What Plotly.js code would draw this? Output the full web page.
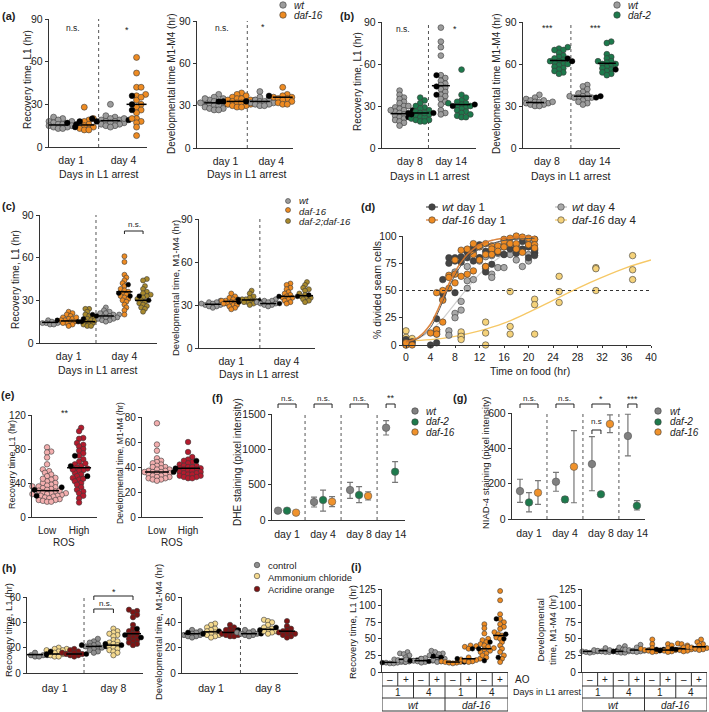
<!DOCTYPE html>
<html><head><meta charset="utf-8">
<script src="https://cdn.plot.ly/plotly-3.0.1.min.js"></script>
<style>html,body{margin:0;padding:0;background:#fff}#chart{width:709px;height:712px}</style>
</head><body><div id="chart"></div>
<script>
// ================= DATA =================
// (a) wt / daf-16, day 1 and day 4
const aRecVals=[[21,20,19,18,18,17,16,16,15,15,14,14,13,13],[28,20,19,18,16,15,14,13,12,12],[30,22,21,20,19,19,18,18,17,17,16,16,15,15,14,20],[63,52,42,42,37,36,33,30,28,26,24,20,20,18,17,14,8,35]];
const aRecReps=[[15,16,17],[18,14],[19,18,20],[36,30,26]];
const aRecMean=[15.5,15.5,18.5,30];
const aDevVals=[[38,36,35,34,33,32,32,31,31,30,30,29,28,28,27,27,35],[39,38,37,36,35,35,34,34,33,33,32,32,31,31,30,30,29,29],[40,36,35,34,33,33,32,32,31,31,30,30],[43,38,37,36,36,35,35,34,33,32,31,31]];
const aDevReps=[[31,33],[33,34],[33],[36,37]];
const aDevMean=[32,33,33,36];
const aDays=['day 1','day 4'];
// (b) wt / daf-2, day 8 and day 14
const bRecVals=[[41,38,36,35,33,32,30,29,28,27,26,25,24,23,22,21,20,19,18,16,30,27],[36,34,32,30,29,28,27,26,25,24,23,22,22,21,20,20,19,19,25],[86,76,72,66,52,50,48,46,45,43,42,40,38,37,35,33,31,27,25,24],[56,38,36,34,33,32,31,30,29,28,27,26,25,24,23,22,22,30,32]];
const bRecReps=[[22,25,27],[24,25],[52,38,44],[30,31]];
const bRecMean=[24.5,25,44.5,31];
const bDevVals=[[38,36,35,34,33,33,32,32,31,31,30,30,33,34],[72,71,70,68,66,65,64,63,62,61,60,59,58,57,56,55,54,53,70,62,60],[45,44,42,40,39,38,37,37,36,36,35,34,33,32,31,36],[76,75,67,65,64,62,61,60,59,58,57,56,55,54,53,52,60,62]];
const bDevReps=[[32,33],[62,64],[37,36],[56,62]];
const bDevMean=[32.5,62.5,37,60.5];
const bDays=['day 8','day 14'];
// (c) wt / daf-16 / daf-2;daf-16
const cRecVals=[[16,15,15,14,14,14,13,13,15],[22,21,20,19,18,17,17,16,16,15,15,14,14,13,12,18],[24,24,22,20,19,18,17,16,15,14,14,13,12,12,16],[25,23,22,21,20,20,19,19,18,18,17,17,16,16,15,21],[61,57,48,46,44,42,40,38,37,36,35,34,33,32,31,30,29,27,25,23,20],[45,44,40,38,36,35,34,33,32,31,30,29,28,27,26,25,24,22]];
const cRecReps=[[15],[16,15],[15,17],[19,20],[41,33,35],[30,33]];
const cRecMean=[14.5,15.5,15,19,36,30];
const cDevVals=[[33,32,32,31,31,30,30,29,29,28,31],[38,36,35,34,33,33,32,32,31,31,30,30,29,28,27],[40,38,36,35,34,34,33,33,32,32,31,30],[34,33,33,32,32,31,31,30,30,29],[45,44,42,41,39,38,37,36,35,35,34,33,32,31],[46,44,42,41,40,38,37,36,35,35,34,33,32]];
const cDevReps=[[31],[32,33],[33,34],[31],[36],[36,37]];
const cDevMean=[30.5,32.5,33.5,31,36,36.5];
// (d) % divided seam cells vs time on food
const dWt1X=[0,0,1,4,5,5,5,5,6,6,7,7,8,8,8,9,9,10,10,11,11,11,12,12,13,13,13,14,14,15,16,16,17,18,18,19,19,20,20,21,21,21];
const dWt1Y=[5,3,3,0,2,24,12,14,60,47,80,75,48,80,77,76,81,85,80,77,88,90,80,92,86,67,72,74,87,85,90,83,88,91,84,95,88,80,90,84,87,82];
const dDaf1X=[0,0,1,4,5,5,5,6,6,6,7,7,7,8,8,8,9,9,10,10,11,11,11,12,12,13,13,13,14,14,14,15,15,16,16,16,17,17,18,18,18,19,19,20,20,21,21,21];
const dDaf1Y=[0,2,0,11,48,14,10,50,41,21,64,62,52,78,57,65,87,63,88,65,93,83,68,90,78,93,83,72,91,88,83,91,86,97,95,90,98,93,100,93,88,99,85,98,92,97,92,89];
const dWt4X=[0,1,5,6,7,7,8,8,8,9,9,9,9,10,10,10,11,11,12,12,13,13,14,14,14,15,15,16,16,17,18,18,19,19,20,20,20,21,21,21];
const dWt4Y=[5,2,10,42,13,9,67,29,25,40,32,10,7,59,52,72,60,85,77,80,81,70,82,65,62,71,84,71,83,83,86,78,87,72,83,77,93,97,88,85];
const dDaf4X=[0,0,0,0,1,9,9,9,13,13,13,17,17,17,21,21,21,25,25,25,31,31,31,37,37,37];
const dDaf4Y=[13,7,2,0,6,12,8,5,21,11,0,49,17,10,42,37,10,63,49,39,71,70,50,82,69,60];
// fitted curves
const dFitWt1X=[0,2,4,5,6,7,8,9,10,12,14,16,18,21];
const dFitWt1Y=[3,6,16,27,40,53,64,73,80,88,93,96,97,98];
const dFitDaf1X=[0,2,4,5,6,7,8,9,10,12,14,16,18,21];
const dFitDaf1Y=[3,7,19,30,43,56,67,76,83,92,96,98,99,100];
const dFitWt4X=[0,2,4,6,8,10,12,14,16,18,21];
const dFitWt4Y=[2,6,13,24,38,52,65,75,83,88,92];
const dFitDaf4X=[0,4,8,12,16,20,24,28,32,36,40];
const dFitDaf4Y=[4,5,8,13,20,30,41,52,62,71,78];
// (e) ROS low / high
const eRecVals=[[82,77,76,70,62,56,54,52,50,48,46,44,42,40,40,38,37,36,35,34,33,32,31,30,29,28,28,27,26,25,25,24,23,22,21,20,20,19,18,18,45,36,31,27],[105,101,93,92,87,85,83,80,78,75,72,68,65,62,60,58,57,55,54,52,50,48,46,44,42,40,38,35,32,30,28,25,22,17,45,56,63]];
const eRecReps=[[35,32,25],[72,60,48]];
const eRecMean=[31,58];
const eDevVals=[[75,58,53,47,45,44,43,42,41,40,40,39,38,38,37,37,36,36,35,35,34,34,33,33,32,32,31,31,30,30,29,36,38],[60,52,48,46,45,44,43,42,41,41,40,40,39,39,38,38,37,37,36,36,35,35,34,34,33,33,32,32,31,31]];
const eDevReps=[[36,38],[45,39]];
const eDevMean=[36,39];
const eCats=['Low','High'];
// (f) DHE staining: mean, upper, lower per day (day 1,4,8,14)
const fWt=[132,255,424,1306], fWtHi=[150,325,533,1405], fWtLo=[115,184,307,1203];
const fDaf2=[132,283,354,683], fDaf2Hi=[150,424,471,825], fDaf2Lo=[115,127,245,533];
const fDaf16=[104,259,340], fDaf16Hi=[125,330,400], fDaf16Lo=[85,188,283];
// (g) NIAD-4 staining
const gWt=[158,211,311,470], gWtHi=[225,264,466,593], gWtLo=[94,157,160,357];
const gDaf2=[94,111,140,75], gDaf2Hi=[149,126,150,104], gDaf2Lo=[40,94,130,51];
const gDaf16=[149,296,538], gDaf16Hi=[217,500,589], gDaf16Lo=[83,92,489];
const fgDays=['day 1','day 4','day 8','day 14'];
// (h) control / ammonium chloride / acridine orange
const hRecVals=[[16,15,15,14,14,14,13,13,15],[20,19,19,18,18,17,16,15,14,13,13],[19,18,17,16,16,15,15,14,14,13],[27,25,24,23,22,21,21,20,20,19,18,17,16],[35,33,32,31,30,29,26,25,24,23,22,21,20,19,18,17,16,14],[50,49,48,46,44,38,35,33,32,31,30,29,28,27,26,25,24,23,22]];
const hRecReps=[[14],[17,15],[15],[22,21],[23,22],[35,30,28]];
const hRecMean=[14.5,15,15,21,22,31];
const hDevVals=[[34,33,32,31,31,30,30,29,29,28],[39,38,36,35,34,33,32,31,30,30,29,28],[38,36,35,34,33,32,31,30,30,29,29],[34,33,32,32,31,31,30,30,29],[42,41,40,38,36,35,34,33,33,32,31],[41,37,35,34,33,32,32,31,31,30,29,28]];
const hDevReps=[[32],[33,31],[34],[31],[34,36],[33]];
const hDevMean=[31,32.5,32,31,34.5,33];
const hDays=['day 1','day 8'];
// (i) AO treatment
const iRecVals=[[16,15,15,14,14,13,13,15],[30,28,27,25,22,20,19,18,17,16,15],[21,20,19,18,17,17,16,15,14],[32,30,28,27,25,22,20,18,16,15],[17,16,15,15,14,14,13],[40,39,38,35,22,20,19,18,17,16,15],[72,66,58,50,48,45,42,40,38,36,34,32,30,28,25,22],[122,108,87,80,75,72,68,65,60,57,55,52,50,45,40,35,30,25,20,15]];
const iRecReps=[[14,15],[18,17],[17,16],[24,22],[15],[20,35],[45,35,17],[80,57,50,22]];
const iRecMean=[14.5,19,17,22,15,20,35,55];
const iDevVals=[[34,33,32,31,31,30,30,29],[36,34,33,32,31,31,30,30],[39,37,34,33,32,31,30,29,29],[41,37,35,34,33,32,31,31,30],[49,42,36,35,33,32,31,30],[42,40,36,35,34,33,32,31,30],[43,42,40,37,35,34,33,32,31],[49,45,42,40,38,37,36,35,34,33]];
const iDevReps=[[31],[32],[31],[33],[34,32],[33,34],[35,34],[38,37]];
const iDevMean=[31,32,31,33,34,33,35,38];
const iAO=['–','+','–','+','–','+','–','+'];
const iDays=['1','4','1','4'];
const iStrain=['wt','daf-16'];

// ================= STYLE =================
const W=709,H=712,AX='#333';
const FONT='Liberation Sans, Arial, Helvetica, sans-serif';
const GRAY='#9c9c9c',ORANGE='#ee8b22',GREEN='#1d7a4c',OLIVE='#a8892c',PINK='#f3aeae',RED='#b51a2d',CTRL='#8e8e8e',NH4='#f4d98e',AOC='#7e1313';
const DKGRAY='#444',LTGRAY='#a9a9a9',LTYEL='#f5d27a';
const DASH='3px,3px';
const traces=[],annotations=[],shapes=[];
const layout={width:W,height:H,margin:{l:0,r:0,t:0,b:0},showlegend:false,paper_bgcolor:'#fff',plot_bgcolor:'rgba(0,0,0,0)',font:{family:FONT,color:'#222',size:10},annotations,shapes};
let axN=0;
function mkAxes(box,xr,yr,pos,xo,yo){
  axN++; const s=axN===1?'':String(axN);
  layout['xaxis'+s]=Object.assign({domain:[box.x0/W,box.x1/W],range:xr,anchor:'y'+s,showgrid:false,zeroline:false,showline:true,linecolor:AX,linewidth:1.2,ticks:'outside',ticklen:3,tickcolor:'rgba(0,0,0,0)',showticklabels:true,tickfont:{size:10.5,color:'#222',family:FONT},fixedrange:true},xo||{});
  layout['yaxis'+s]=Object.assign({domain:[1-box.y1/H,1-box.y0/H],range:yr,anchor:'x'+s,showgrid:false,zeroline:false,showline:true,linecolor:AX,linewidth:1.2,ticks:'outside',ticklen:3,tickwidth:1,tickcolor:AX,tickfont:{size:10.5,color:'#222',family:FONT},fixedrange:true},yo||{});
  return {xa:'x'+s,ya:'y'+s,box,xr,yr,pos};
}
function sc(P,x,y,o){return Object.assign({type:'scatter',x,y,xaxis:P.xa,yaxis:P.ya,hoverinfo:'skip',cliponaxis:false},o);}
// deterministic beeswarm layout derived from the values
function swarm(vals,pos,P,size){
  const sy=(P.box.y1-P.box.y0)/(P.yr[1]-P.yr[0]);
  const ux=(P.xr[1]-P.xr[0])/(P.box.x1-P.box.x0);
  const order=vals.map((v,i)=>i).sort((a,b)=>vals[a]-vals[b]);
  const placed=[],xs=new Array(vals.length);
  const d=size*0.68,step=size*0.38;
  order.forEach(i=>{
    const py=vals[i]*sy; let off=0;
    for(let k=0;k<80;k++){
      off=k===0?0:(k%2?1:-1)*Math.ceil(k/2)*step;
      if(placed.every(p=>Math.hypot(p[0]-off,p[1]-py)>=d))break;
    }
    placed.push([off,py]); xs[i]=pos+off*ux;
  });
  return xs;
}
function dotPanel(P,vals,reps,means,colors,size,hwPx){
  const ux=(P.xr[1]-P.xr[0])/(P.box.x1-P.box.x0);
  vals.forEach((v,g)=>{
    const pos=P.pos[g];
    const all=v.concat(reps[g]);
    const xs=swarm(all,pos,P,size);
    traces.push(sc(P,xs.slice(0,v.length),v,{mode:'markers',marker:{size,color:colors[g],line:{color:'#3a3a3a',width:0.6}}}));
    traces.push(sc(P,xs.slice(v.length),reps[g],{mode:'markers',marker:{size:size*0.95,color:'#000',line:{color:'#000',width:0.4}}}));
    traces.push(sc(P,[pos-hwPx*ux,pos+hwPx*ux],[means[g],means[g]],{mode:'lines',line:{color:'#000',width:1.5}}));
  });
}
function divider(P,x,dash){shapes.push({type:'line',xref:P.xa,yref:P.ya,x0:x,x1:x,y0:P.yr[0],y1:P.yr[1],line:{color:'#555',width:1,dash:dash||DASH},layer:'below'});}
function bracket(P,xa,xb,ypx,leg){const y0=1-ypx/H,y1=1-(ypx+leg)/H;shapes.push({type:'path',xref:P.xa,yref:'paper',path:`M${xa},${y1} L${xa},${y0} L${xb},${y0} L${xb},${y1}`,line:{color:'#222',width:1}});}
function txt(text,x,y,o){o=o||{};annotations.push({text,x:x/W,y:1-y/H,xref:'paper',yref:'paper',showarrow:false,xanchor:o.xa||'center',yanchor:'middle',textangle:o.ang||0,font:{size:o.size||10,color:o.color||'#222',family:FONT}});}
function txtX(P,text,x,y,o){o=o||{};annotations.push({text,x,y:1-y/H,xref:P.xa,yref:'paper',showarrow:false,xanchor:'center',yanchor:'middle',font:{size:o.size||10,color:'#222',family:FONT}});}
function ytitle(text,x,y,size){txt(text,x,y,{ang:-90,size:size||10});}
function bold(t,x,y){txt('<b>'+t+'</b>',x,y,{size:11});}

// ================= PANEL (a) =================
const PA1=mkAxes({x0:49,x1:147,y0:19,y1:147},[-0.35,3.4],[0,90],[0,1,2,3],{tickvals:[0.5,2.5],ticktext:aDays},{tickvals:[0,30,60,90]});
dotPanel(PA1,aRecVals,aRecReps,aRecMean,[GRAY,ORANGE,GRAY,ORANGE],6,10);
divider(PA1,1.55);
const PA2=mkAxes({x0:197,x1:293,y0:21,y1:148},[-0.75,3.45],[0,90],[0,1,2,3],{tickvals:[0.5,2.5],ticktext:aDays},{tickvals:[0,30,60,90]});
dotPanel(PA2,aDevVals,aDevReps,aDevMean,[GRAY,ORANGE,GRAY,ORANGE],6,10);
divider(PA2,1.45);
bold('(a)',9,16);
ytitle('Recovery time, L1 (hr)',27,80);
ytitle('Developmental time M1-M4 (hr)',172,84);
txt('Days in L1 arrest',98,174,{size:10.5});
txt('Days in L1 arrest',246,174,{size:10.5});
txt('n.s.',73,28,{size:8.5});txt('*',127,30,{size:9});
txt('n.s.',222,28,{size:8.5});txt('*',263,27,{size:9});

// ================= PANEL (b) =================
const PB1=mkAxes({x0:382,x1:476,y0:22,y1:148},[-0.85,3.7],[0,90],[0,1,2,3],{tickvals:[0.5,2.5],ticktext:bDays},{tickvals:[0,30,60,90]});
dotPanel(PB1,bRecVals,bRecReps,bRecMean,[GRAY,GREEN,GRAY,GREEN],5.8,9);
divider(PB1,1.4);
const PB2=mkAxes({x0:523,x1:620,y0:22,y1:148},[-0.5,3.55],[0,90],[0,1,2,3],{tickvals:[0.5,2.5],ticktext:bDays},{tickvals:[0,30,60,90]});
dotPanel(PB2,bDevVals,bDevReps,bDevMean,[GRAY,GREEN,GRAY,GREEN],5.8,9);
divider(PB2,1.5);
bold('(b)',347,16);
ytitle('Recovery time, L1 (hr)',357,82);
ytitle('Developmental time M1-M4 (hr)',497,84);
txt('Days in L1 arrest',430,176,{size:10.5});
txt('Days in L1 arrest',570,176,{size:10.5});
txt('n.s.',403,29,{size:8.5});txt('*',455,29,{size:9});
txt('***',547,28,{size:9});txt('***',595,28,{size:9});

// ================= PANEL (c) =================
const cCols=[GRAY,ORANGE,OLIVE,GRAY,ORANGE,OLIVE];
const PC1=mkAxes({x0:40,x1:157,y0:215,y1:343},[-0.54,5.75],[0,90],[0,1,2,3,4,5],{tickvals:[1,4],ticktext:aDays},{tickvals:[0,30,60,90]});
dotPanel(PC1,cRecVals,cRecReps,cRecMean,cCols,5,8);
divider(PC1,2.47);
const PC2=mkAxes({x0:199,x1:315,y0:219,y1:348},[-0.75,5.54],[0,90],[0,1,2,3,4,5],{tickvals:[1,4],ticktext:aDays},{tickvals:[0,30,60,90]});
dotPanel(PC2,cDevVals,cDevReps,cDevMean,cCols,5,8);
divider(PC2,2.55);
bold('(c)',9,206);
ytitle('Recovery time, L1 (hr)',15,280);
ytitle('Developmental time, M1-M4 (hr)',175,288,9.5);
txt('Days in L1 arrest',97,370,{size:10.5});
txt('Days in L1 arrest',258,374,{size:10.5});
bracket(PC1,4,5,231,3);txt('n.s.',134,224,{size:8});

// ================= PANEL (d) =================
const PD=mkAxes({x0:403,x1:651,y0:236,y1:345},[-0.49,40],[0,100],null,
  {tickvals:[0,4,8,12,16,20,24,28,32,36,40],tickcolor:AX,ticklen:2,tickfont:{size:10.5,color:'#222',family:FONT}},
  {tickvals:[0,25,50,75,100]});
shapes.push({type:'line',xref:PD.xa,yref:PD.ya,x0:0,x1:40,y0:50,y1:50,line:{color:'#333',width:1.2,dash:'dot'}});
const dm=(c)=>({size:6.5,color:c,line:{color:'#3a3a3a',width:0.6}});
traces.push(sc(PD,dFitWt4X,dFitWt4Y,{mode:'lines',line:{color:'#cfcfcf',width:1.2,shape:'spline'}}));
traces.push(sc(PD,dFitDaf4X,dFitDaf4Y,{mode:'lines',line:{color:'#f6c866',width:1.3,shape:'spline'}}));
traces.push(sc(PD,dWt4X,dWt4Y,{mode:'markers',marker:dm(LTGRAY)}));
traces.push(sc(PD,dDaf4X,dDaf4Y,{mode:'markers',marker:dm(LTYEL)}));
traces.push(sc(PD,dWt1X,dWt1Y,{mode:'markers',marker:dm(DKGRAY)}));
traces.push(sc(PD,dDaf1X,dDaf1Y,{mode:'markers',marker:dm(ORANGE)}));
traces.push(sc(PD,dFitWt1X,dFitWt1Y,{mode:'lines',line:{color:'#555',width:1,shape:'spline'}}));
traces.push(sc(PD,dFitDaf1X,dFitDaf1Y,{mode:'lines',line:{color:'#d9792c',width:1.6,shape:'spline'},opacity:0.9}));
bold('(d)',368,207);
ytitle('% divided seam cells',377,290,10.5);
txt('Time on food (hr)',530,371,{size:10.5});

// ================= PANEL (e) =================
const PE1=mkAxes({x0:32,x1:97,y0:415,y1:517},[-0.47,1.56],[0,120],[0,1],{tickvals:[0,1],ticktext:eCats,ticklen:4,tickfont:{size:10,color:'#222',family:FONT}},{tickvals:[0,40,80,120],tickfont:{size:10,color:'#222',family:FONT}});
dotPanel(PE1,eRecVals,eRecReps,eRecMean,[PINK,RED],5.5,12);
const PE2=mkAxes({x0:142,x1:203,y0:417,y1:517},[-0.48,1.48],[0,80],[0,1],{tickvals:[0,1],ticktext:eCats,ticklen:4,tickfont:{size:10,color:'#222',family:FONT}},{tickvals:[0,20,40,60,80],tickfont:{size:10,color:'#222',family:FONT}});
dotPanel(PE2,eDevVals,eDevReps,eDevMean,[PINK,RED],5.5,12);
bold('(e)',8,395);
ytitle('Recovery time, L1 (hr)',12,465,9);
ytitle('Developmental time, M1-M4 (hr)',120,463,8.5);
txt('ROS',64,542,{size:10});txt('ROS',172,542,{size:10});
txt('**',65,413,{size:9});

// ================= PANEL (f) & (g) =================
const fgX=(g,s)=>4*g+s;
function errPts(P,vals,hi,lo,s,color){
  const x=vals.map((v,g)=>fgX(g,s));
  traces.push(sc(P,x,vals,{mode:'markers',marker:{size:7.5,color,line:{color:'#555',width:0.6}},
    error_y:{type:'data',symmetric:false,array:hi.map((h,i)=>h-vals[i]),arrayminus:lo.map((l,i)=>vals[i]-l),color:'#777',thickness:1.2,width:3}}));
}
const PF=mkAxes({x0:272,x1:405,y0:414,y1:520},[-0.67,14.1],[0,1500],null,{tickvals:[1,5,9,12.5],ticktext:fgDays,ticklen:4},{tickvals:[0,500,1000,1500]});
[3,7,11].forEach(x=>divider(PF,x,'dot'));
errPts(PF,fWt,fWtHi,fWtLo,0,'#808080');errPts(PF,fDaf2,fDaf2Hi,fDaf2Lo,1,GREEN);errPts(PF,fDaf16,fDaf16Hi,fDaf16Lo,2,'#f0922b');
[0,1,2].forEach(g=>{bracket(PF,fgX(g,0),fgX(g,2),404,4);txtX(PF,'n.s.',fgX(g,1),398,{size:8});});
bracket(PF,fgX(3,0),fgX(3,1),404,4);txtX(PF,'**',fgX(3,0.5),398,{size:9});
bold('(f)',217,398);
ytitle('DHE staining (pixel intensity)',237,462,10);

const PG=mkAxes({x0:512,x1:645,y0:413,y1:519},[-0.89,13.9],[0,600],null,{tickvals:[1,5,9,12.5],ticktext:fgDays,ticklen:4},{tickvals:[0,200,400,600]});
[3,7,11].forEach(x=>divider(PG,x,'dot'));
errPts(PG,gWt,gWtHi,gWtLo,0,'#808080');errPts(PG,gDaf2,gDaf2Hi,gDaf2Lo,1,GREEN);errPts(PG,gDaf16,gDaf16Hi,gDaf16Lo,2,'#f0922b');
[0,1].forEach(g=>{bracket(PG,fgX(g,0),fgX(g,2),404,4);txtX(PG,'n.s.',fgX(g,1),398,{size:8});});
bracket(PG,fgX(2,0),fgX(2,2),404,4);txtX(PG,'*',fgX(2,1),399,{size:9});
bracket(PG,fgX(2,0),fgX(2,1),430,4);txtX(PG,'n.s',fgX(2,0.5),421,{size:8});
bracket(PG,fgX(3,0),fgX(3,1),404,4);txtX(PG,'***',fgX(3,0.5),399,{size:9});
bold('(g)',460,398);
ytitle('NIAD-4 staining (pixel intensity)',485,463,9.5);

// ================= PANEL (h) =================
const hCols=[CTRL,NH4,AOC,CTRL,NH4,AOC];
const hTick={size:10,color:'#222',family:FONT};
const PH1=mkAxes({x0:27,x1:143,y0:597,y1:673},[-0.41,5.51],[0,60],[0,1,2,3,4,5],{tickvals:[1,4],ticktext:hDays,ticklen:5,tickfont:{size:10.5,color:'#222',family:FONT}},{tickvals:[0,20,40,60],tickfont:hTick});
dotPanel(PH1,hRecVals,hRecReps,hRecMean,hCols,5.3,8);
divider(PH1,2.5);
bracket(PH1,3,5,596,4);txt('*',114,592,{size:9});
bracket(PH1,3,4,609,4);txt('n.s.',105,603,{size:8});
const PH2=mkAxes({x0:182,x1:298,y0:597,y1:673},[-0.53,5.58],[0,60],[0,1,2,3,4,5],{tickvals:[1,4],ticktext:hDays,ticklen:5,tickfont:{size:10.5,color:'#222',family:FONT}},{tickvals:[0,20,40,60],tickfont:hTick});
dotPanel(PH2,hDevVals,hDevReps,hDevMean,hCols,5.3,8);
divider(PH2,2.55);
bold('(h)',9,568);
ytitle('Recovery time, L1 (hr)',8,630,9.5);
ytitle('Developmental time, M1-M4 (hr)',158,632,9.5);

// ================= PANEL (i) =================
const iCols=[GRAY,GRAY,GRAY,GRAY,ORANGE,ORANGE,ORANGE,ORANGE];
const iTick={size:10,color:'#222',family:FONT};
const PI1=mkAxes({x0:382,x1:508,y0:589,y1:672},[-0.5,7.5],[0,125],[0,1,2,3,4,5,6,7],{showticklabels:false,ticks:''},{tickvals:[0,25,50,75,100,125],tickfont:iTick});
dotPanel(PI1,iRecVals,iRecReps,iRecMean,iCols,5,7);
const PI2=mkAxes({x0:582,x1:707,y0:589,y1:672},[-0.5,7.5],[0,125],[0,1,2,3,4,5,6,7],{showticklabels:false,ticks:''},{tickvals:[0,25,50,75,100,125],tickfont:iTick});
dotPanel(PI2,iDevVals,iDevReps,iDevMean,iCols,5,7);
function table(P){
  const yp=v=>1-v/H; const L={color:'#333',width:1};
  const rows=[672,686,698,711];
  rows.slice(1).forEach(r=>shapes.push({type:'line',xref:P.xa,yref:'paper',x0:-0.5,x1:7.5,y0:yp(r),y1:yp(r),line:L}));
  [-0.5,3.5,7.5].forEach(x=>shapes.push({type:'line',xref:P.xa,yref:'paper',x0:x,x1:x,y0:yp(672),y1:yp(711),line:L}));
  [1.5,5.5].forEach(x=>shapes.push({type:'line',xref:P.xa,yref:'paper',x0:x,x1:x,y0:yp(672),y1:yp(698),line:L}));
  [0.5,2.5,4.5,6.5].forEach(x=>shapes.push({type:'line',xref:P.xa,yref:'paper',x0:x,x1:x,y0:yp(672),y1:yp(686),line:L}));
  iAO.forEach((t,i)=>txtX(P,t,i,679,{size:10}));
  iDays.forEach((t,i)=>txtX(P,t,2*i+0.5,692,{size:10}));
  iStrain.forEach((t,i)=>txtX(P,'<i>'+t+'</i>',4*i+1.5,705,{size:10}));
}
table(PI1);table(PI2);
txt('AO',513,679,{xa:'left',size:10});
txt('Days in L1 arrest',511,692,{xa:'left',size:9});
bold('(i)',356,567);
ytitle('Recovery time, L1 (hr)',352,632,9.5);
ytitle('Developmental<br>time, M1-M4 (hr)',546,630,9.5);

// ================= LEGENDS (pixel overlay) =================
axN++; const LS=String(axN);
layout['xaxis'+LS]={domain:[0,1],range:[0,W],visible:false,fixedrange:true,anchor:'y'+LS};
layout['yaxis'+LS]={domain:[0,1],range:[H,0],visible:false,fixedrange:true,anchor:'x'+LS};
const PL={xa:'x'+LS,ya:'y'+LS};
function legDot(x,y,c,s){traces.push(sc(PL,[x],[y],{mode:'markers',marker:{size:s||6.5,color:c,line:{color:'#3a3a3a',width:0.6}}}));}
function legLine(x,y,c,lc){traces.push(sc(PL,[x-6,x+6],[y,y],{mode:'lines',line:{color:lc,width:1.2}}));legDot(x,y,c,6.5);}
legDot(283,5,GRAY);txt('<i>wt</i>',292,5,{xa:'left',size:10});
legDot(283,15,ORANGE);txt('<i>daf-16</i>',292,15,{xa:'left',size:10});
legDot(617,5,GRAY);txt('<i>wt</i>',626,5,{xa:'left',size:10});
legDot(617,15,GREEN);txt('<i>daf-2</i>',626,15,{xa:'left',size:10});
legDot(288,201,GRAY,5);txt('<i>wt</i>',297,201,{xa:'left',size:9.5});
legDot(288,210,ORANGE,5);txt('<i>daf-16</i>',297,211,{xa:'left',size:9.5});
legDot(288,221,OLIVE,5);txt('<i>daf-2;daf-16</i>',297,221,{xa:'left',size:9.5});
legLine(432,207,DKGRAY,'#555');txt('<i>wt</i> day 1',440,207,{xa:'left',size:11.5});
legLine(432,220,ORANGE,'#d9792c');txt('<i>daf-16</i> day 1',440,220,{xa:'left',size:11.5});
legLine(561,207,LTGRAY,'#bbb');txt('<i>wt</i> day 4',570,207,{xa:'left',size:11.5});
legLine(561,220,LTYEL,'#f6c866');txt('<i>daf-16</i> day 4',570,220,{xa:'left',size:11.5});
legDot(415,411,'#808080');txt('<i>wt</i>',424,411,{xa:'left',size:10});
legDot(415,422,GREEN);txt('<i>daf-2</i>',424,422,{xa:'left',size:10});
legDot(415,432,'#f0922b');txt('<i>daf-16</i>',424,432,{xa:'left',size:10});
legDot(658,411,'#808080');txt('<i>wt</i>',668,411,{xa:'left',size:10});
legDot(658,422,GREEN);txt('<i>daf-2</i>',668,422,{xa:'left',size:10});
legDot(658,432,'#f0922b');txt('<i>daf-16</i>',668,432,{xa:'left',size:10});
legDot(257,565,CTRL,5.5);txt('control',266,565,{xa:'left',size:9.5});
legDot(257,576,NH4,5.5);txt('Ammonium chloride',266,577,{xa:'left',size:9.5});
legDot(257,589,AOC,5.5);txt('Acridine orange',266,589,{xa:'left',size:9.5});

Plotly.newPlot('chart',traces,layout,{staticPlot:true,displayModeBar:false});
</script></body></html>
